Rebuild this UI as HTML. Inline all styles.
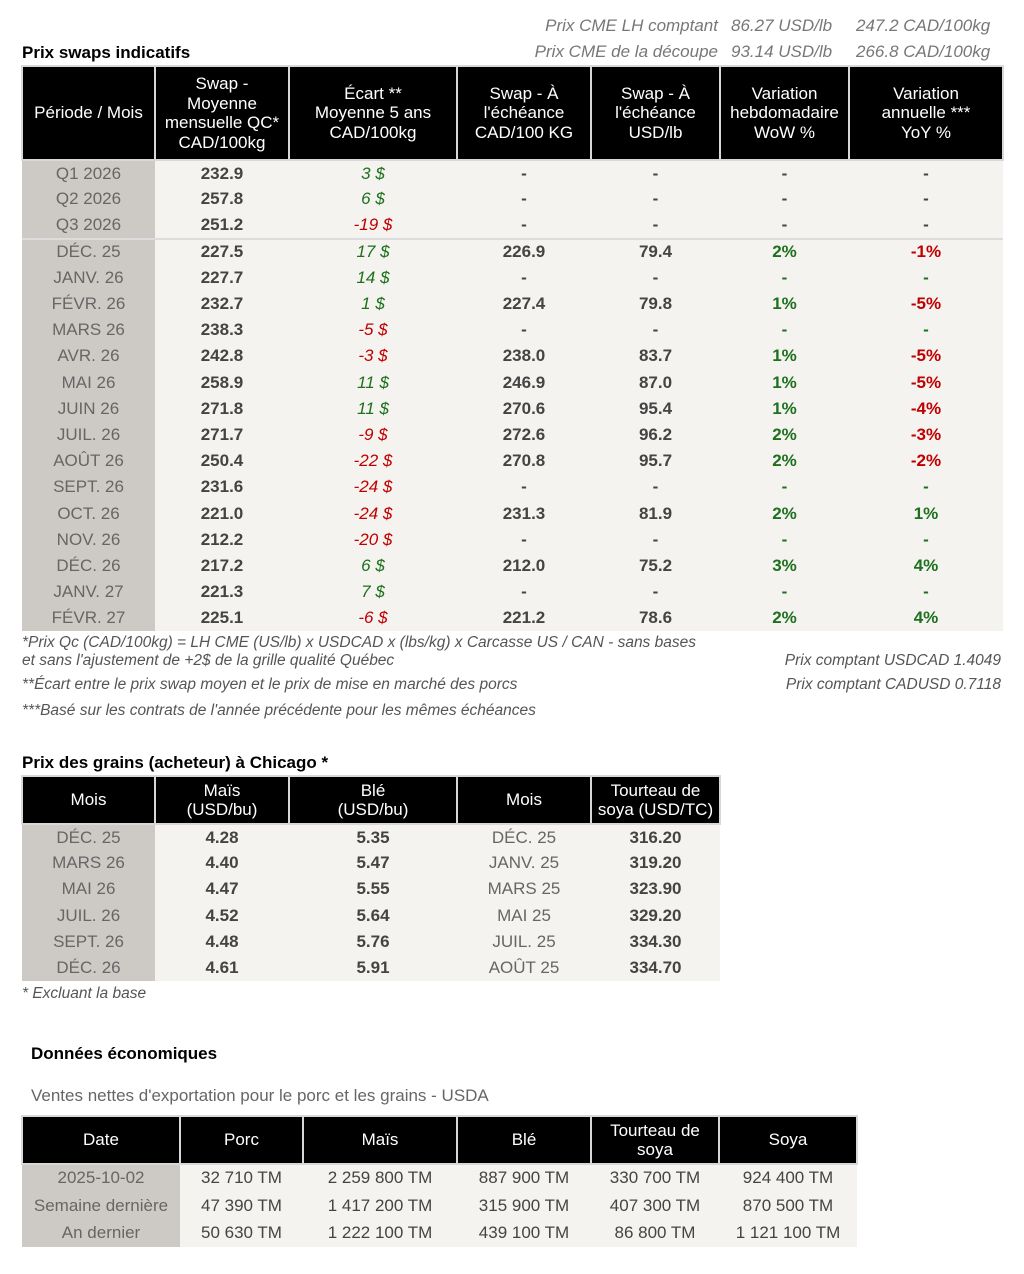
<!DOCTYPE html>
<html><head><meta charset="utf-8">
<style>
body{margin:0;width:1024px;height:1274px;background:#fff;font-family:"Liberation Sans",Arial,sans-serif;position:relative;overflow:hidden}
.abs{position:absolute}
.ttl{font-weight:bold;font-size:17px;color:#000}
.note{font-style:italic;font-size:15.5px;color:#555;white-space:nowrap}
.top{font-style:italic;font-size:17px;color:#777;white-space:nowrap}
table{border-collapse:collapse;position:absolute;table-layout:fixed}
th{background:#000;color:#fff;font-weight:normal;font-size:17px;line-height:19.5px;text-align:center;border:2px solid #d8d8d8;padding:0}
td{text-align:center;font-size:17px;padding:0;background:#f5f3ef;color:#444;font-weight:bold;white-space:nowrap}
td.c0{background:#cdcac5;color:#666;font-weight:normal}
tr.sep td{border-top:2px solid #dcdcdc}
.g{color:#1d701d}.r{color:#c00000}
.it{font-style:italic;font-weight:normal}
table.t3 td{font-weight:normal;color:#444}
table.t3 td.c0{color:#666}
</style></head><body>
<div class="abs top" style="right:306px;top:16px">Prix CME LH comptant</div>
<div class="abs top" style="left:731px;top:16px">86.27 USD/lb</div>
<div class="abs top" style="left:856px;top:16px">247.2 CAD/100kg</div>
<div class="abs top" style="right:306px;top:42px">Prix CME de la découpe</div>
<div class="abs top" style="left:731px;top:42px">93.14 USD/lb</div>
<div class="abs top" style="left:856px;top:42px">266.8 CAD/100kg</div>
<div class="abs ttl" style="left:22px;top:43px">Prix swaps indicatifs</div>

<table id="t1" style="left:21px;top:65px;width:981px">
<colgroup><col style="width:133px"><col style="width:134px"><col style="width:168px"><col style="width:134px"><col style="width:129px"><col style="width:129px"><col style="width:154px"></colgroup>
<tr style="height:94px"><th>Période / Mois</th><th>Swap -<br>Moyenne<br>mensuelle QC*<br>CAD/100kg</th><th>Écart **<br>Moyenne 5 ans<br>CAD/100kg</th><th>Swap - À<br>l'échéance<br>CAD/100 KG</th><th>Swap - À<br>l'échéance<br>USD/lb</th><th>Variation<br>hebdomadaire<br>WoW %</th><th>Variation<br>annuelle ***<br>YoY %</th></tr>
</table>

<div class="abs note" style="left:22px;top:634px">*Prix Qc (CAD/100kg) = LH CME (US/lb) x USDCAD x (lbs/kg) x Carcasse US / CAN - sans bases</div>
<div class="abs note" style="left:22px;top:652px">et sans l'ajustement de +2$ de la grille qualité Québec</div>
<div class="abs note" style="left:22px;top:676px">**Écart entre le prix swap moyen et le prix de mise en marché des porcs</div>
<div class="abs note" style="left:22px;top:702px">***Basé sur les contrats de l'année précédente pour les mêmes échéances</div>
<div class="abs note" style="right:23px;top:652px">Prix comptant USDCAD 1.4049</div>
<div class="abs note" style="right:23px;top:676px">Prix comptant CADUSD 0.7118</div>

<div class="abs ttl" style="left:22px;top:753px">Prix des grains (acheteur) à Chicago *</div>
<table id="t2" style="left:21px;top:775px;width:698px">
<colgroup><col style="width:133px"><col style="width:134px"><col style="width:168px"><col style="width:134px"><col style="width:129px"></colgroup>
<tr style="height:48px"><th>Mois</th><th>Maïs<br>(USD/bu)</th><th>Blé<br>(USD/bu)</th><th>Mois</th><th>Tourteau de<br>soya (USD/TC)</th></tr>
</table>
<div class="abs note" style="left:22px;top:985px">* Excluant la base</div>

<div class="abs ttl" style="left:31px;top:1044px">Données économiques</div>
<div class="abs" style="left:31px;top:1086px;font-size:17px;color:#666">Ventes nettes d'exportation pour le porc et les grains - USDA</div>
<table id="t3" class="t3" style="left:21px;top:1115px;width:835px">
<colgroup><col style="width:158px"><col style="width:123px"><col style="width:154px"><col style="width:134px"><col style="width:128px"><col style="width:138px"></colgroup>
<tr style="height:48px"><th>Date</th><th>Porc</th><th>Maïs</th><th>Blé</th><th>Tourteau de<br>soya</th><th>Soya</th></tr>
</table>

<script>
const periods=["Q1 2026","Q2 2026","Q3 2026","DÉC. 25","JANV. 26","FÉVR. 26","MARS 26","AVR. 26","MAI 26","JUIN 26","JUIL. 26","AOÛT 26","SEPT. 26","OCT. 26","NOV. 26","DÉC. 26","JANV. 27","FÉVR. 27"];
const swapAvg=["232.9","257.8","251.2","227.5","227.7","232.7","238.3","242.8","258.9","271.8","271.7","250.4","231.6","221.0","212.2","217.2","221.3","225.1"];
const ecart=[3,6,-19,17,14,1,-5,-3,11,11,-9,-22,-24,-24,-20,6,7,-6];
const swapCad=["-","-","-","226.9","-","227.4","-","238.0","246.9","270.6","272.6","270.8","-","231.3","-","212.0","-","221.2"];
const swapUsd=["-","-","-","79.4","-","79.8","-","83.7","87.0","95.4","96.2","95.7","-","81.9","-","75.2","-","78.6"];
const wow=["-","-","-","2%","-","1%","-","1%","1%","1%","2%","2%","-","2%","-","3%","-","2%"];
const yoy=["-","-","-","-1%","-","-5%","-","-5%","-5%","-4%","-3%","-2%","-","1%","-","4%","-","4%"];

const t1=document.getElementById('t1');
periods.forEach((p,i)=>{
  const tr=document.createElement('tr');
  
  
  tr.style.height='26.2px';
  if(i==3) tr.className='sep';
  const vals=[p,swapAvg[i],ecart[i]+' $',swapCad[i],swapUsd[i],wow[i],yoy[i]];
  vals.forEach((v,j)=>{
    const td=document.createElement('td');
    
    
    td.textContent=v;
    if(j==0) td.className='c0';
    if(j==2) td.className='it '+(ecart[i]>=0?'g':'r');
    if(j==5) td.className='g';
    if(j==6) td.className=(v.startsWith('-')&&v!='-')?'r':'g';
    if(i<3&&j>=5) td.style.color='#444';
    tr.appendChild(td);
  });
  t1.appendChild(tr);
});

const grainMonths=["DÉC. 25","MARS 26","MAI 26","JUIL. 26","SEPT. 26","DÉC. 26"];
const mais=["4.28","4.40","4.47","4.52","4.48","4.61"];
const ble=["5.35","5.47","5.55","5.64","5.76","5.91"];
const soyMonths=["DÉC. 25","JANV. 25","MARS 25","MAI 25","JUIL. 25","AOÛT 25"];
const tourteau=["316.20","319.20","323.90","329.20","334.30","334.70"];
const t2=document.getElementById('t2');
grainMonths.forEach((m,i)=>{
  const tr=document.createElement('tr');
  
  
  tr.style.height='26.2px';
  [m,mais[i],ble[i],soyMonths[i],tourteau[i]].forEach((v,j)=>{
    const td=document.createElement('td');
    
    
    td.textContent=v;
    if(j==0) td.className='c0';
    if(j==3){td.style.fontWeight='normal';td.style.color='#666';}
    tr.appendChild(td);
  });
  t2.appendChild(tr);
});

const expDates=["2025-10-02","Semaine dernière","An dernier"];
const porc=["32 710 TM","47 390 TM","50 630 TM"];
const maisExp=["2 259 800 TM","1 417 200 TM","1 222 100 TM"];
const bleExp=["887 900 TM","315 900 TM","439 100 TM"];
const tourteauExp=["330 700 TM","407 300 TM","86 800 TM"];
const soya=["924 400 TM","870 500 TM","1 121 100 TM"];
const t3=document.getElementById('t3');
expDates.forEach((d,i)=>{
  const tr=document.createElement('tr');
  
  
  tr.style.height='27.7px';
  [d,porc[i],maisExp[i],bleExp[i],tourteauExp[i],soya[i]].forEach((v,j)=>{
    const td=document.createElement('td');
    
    
    td.textContent=v;
    if(j==0) td.className='c0';
    tr.appendChild(td);
  });
  t3.appendChild(tr);
});
</script>
</body></html>
